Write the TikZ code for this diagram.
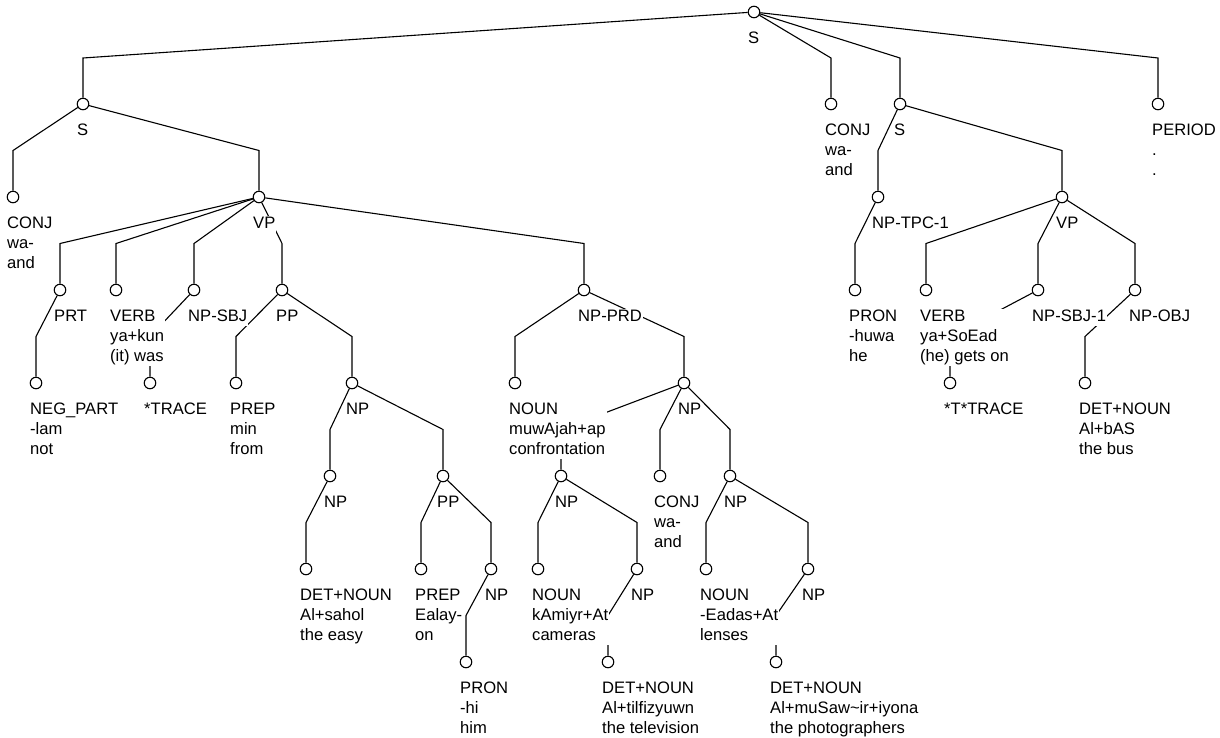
\documentclass[tikz,border=0pt]{standalone}
\usepackage{fontspec}
\setmainfont{Liberation Sans}
\usetikzlibrary{calc}
\newcommand\st{\rule[-4pt]{0pt}{15pt}}
\newcommand\tnode[3]{\node[tn] (#1) at (#2,#3) {};}
\newcommand\tlab[2]{\node[lab] (#1l) at ($(#1)+(-7,18.5)$) {\st#2\st};}
\newcommand\tedge[2]{\path ($(#1)!0.5!(#2)$) coordinate (m#2); \draw[ed] (#1) -- (m#2 -| #2) -- (#2);}
\begin{document}
\begin{tikzpicture}[x=1pt,y=-1pt,
  tn/.style={circle,draw,fill=white,minimum size=11.5pt,inner sep=0pt,line width=1.1pt},
  ed/.style={line width=1.1pt},
  lab/.style={anchor=north west,align=left,fill=white,inner sep=1pt,
    font=\fontsize{16.6}{20}\selectfont}]
\useasboundingbox (0,0) rectangle (1220,737);
% nodes
\tnode{root}{754}{12}
\tnode{s1}{83}{104}
\tnode{conj1}{831}{104}
\tnode{s2}{900}{104}
\tnode{period}{1158}{104}
\tnode{conj0}{13}{197}
\tnode{vp1}{259}{197}
\tnode{nptpc}{878}{197}
\tnode{vp2}{1062}{197}
\tnode{prt}{60}{290}
\tnode{verb1}{116}{290}
\tnode{npsbj}{194}{290}
\tnode{pp1}{282}{290}
\tnode{npprd}{584}{290}
\tnode{pron1}{855}{290}
\tnode{verb2}{926}{290}
\tnode{npsbj1}{1038}{290}
\tnode{npobj}{1135}{290}
\tnode{neg}{36}{383}
\tnode{trace1}{150}{383}
\tnode{prep1}{236}{383}
\tnode{np1}{352}{383}
\tnode{noun1}{515}{383}
\tnode{np2}{684}{383}
\tnode{trace2}{950}{383}
\tnode{det1}{1085}{383}
\tnode{np3}{330}{476}
\tnode{pp2}{443}{476}
\tnode{np4}{561}{476}
\tnode{conj2}{660}{476}
\tnode{np5}{730}{476}
\tnode{det2}{306}{569}
\tnode{prep2}{421}{569}
\tnode{np6}{491}{569}
\tnode{noun2}{538}{569}
\tnode{np7}{637}{569}
\tnode{noun3}{706}{569}
\tnode{np8}{808}{569}
\tnode{pron2}{466}{662}
\tnode{det3}{608}{662}
\tnode{det4}{776}{662}
% edges
\tedge{root}{s1}\tedge{root}{conj1}\tedge{root}{s2}\tedge{root}{period}
\tedge{s1}{conj0}\tedge{s1}{vp1}
\tedge{s2}{nptpc}\tedge{s2}{vp2}
\tedge{vp1}{prt}\tedge{vp1}{verb1}\tedge{vp1}{npsbj}\tedge{vp1}{pp1}\tedge{vp1}{npprd}
\tedge{nptpc}{pron1}
\tedge{vp2}{verb2}\tedge{vp2}{npsbj1}\tedge{vp2}{npobj}
\tedge{prt}{neg}
\tedge{npsbj}{trace1}
\tedge{pp1}{prep1}\tedge{pp1}{np1}
\tedge{npprd}{noun1}\tedge{npprd}{np2}
\tedge{npsbj1}{trace2}
\tedge{npobj}{det1}
\tedge{np1}{np3}\tedge{np1}{pp2}
\tedge{np2}{np4}\tedge{np2}{conj2}\tedge{np2}{np5}
\tedge{np3}{det2}
\tedge{pp2}{prep2}\tedge{pp2}{np6}
\tedge{np4}{noun2}\tedge{np4}{np7}
\tedge{np5}{noun3}\tedge{np5}{np8}
\tedge{np6}{pron2}
\tedge{np7}{det3}
\tedge{np8}{det4}
% labels
\tlab{root}{S}
\tlab{s1}{S}
\tlab{conj1}{CONJ\\wa-\\and}
\tlab{s2}{S}
\tlab{period}{PERIOD\\.\\.}
\tlab{conj0}{CONJ\\wa-\\and}
\tlab{vp1}{VP}
\tlab{nptpc}{NP-TPC-1}
\tlab{vp2}{VP}
\tlab{prt}{PRT}
\tlab{verb1}{VERB\\ya+kun\\(it) was}
\tlab{npsbj}{NP-SBJ}
\tlab{pp1}{PP}
\tlab{npprd}{NP-PRD}
\tlab{pron1}{PRON\\-huwa\\he}
\tlab{verb2}{VERB\\ya+SoEad\\(he) gets on}
\tlab{npsbj1}{NP-SBJ-1}
\tlab{npobj}{NP-OBJ}
\tlab{neg}{NEG\_PART\\-lam\\not}
\tlab{trace1}{*TRACE}
\tlab{prep1}{PREP\\min\\from}
\tlab{np1}{NP}
\tlab{noun1}{NOUN\\muwAjah+ap\\confrontation}
\tlab{np2}{NP}
\tlab{trace2}{*T*TRACE}
\tlab{det1}{DET+NOUN\\Al+bAS\\the bus}
\tlab{np3}{NP}
\tlab{pp2}{PP}
\tlab{np4}{NP}
\tlab{conj2}{CONJ\\wa-\\and}
\tlab{np5}{NP}
\tlab{det2}{DET+NOUN\\Al+sahol\\the easy}
\tlab{prep2}{PREP\\Ealay-\\on}
\tlab{np6}{NP}
\tlab{noun2}{NOUN\\kAmiyr+At\\cameras}
\tlab{np7}{NP}
\tlab{noun3}{NOUN\\-Eadas+At\\lenses}
\tlab{np8}{NP}
\tlab{pron2}{PRON\\-hi\\him}
\tlab{det3}{DET+NOUN\\Al+tilfizyuwn\\the television}
\tlab{det4}{DET+NOUN\\Al+muSaw\textasciitilde ir+iyona\\the photographers}
\end{tikzpicture}
\end{document}
